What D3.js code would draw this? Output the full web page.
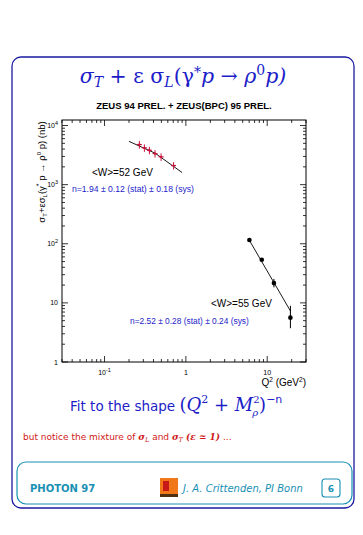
<!DOCTYPE html>
<html>
<head>
<meta charset="utf-8">
<script src="https://cdn.jsdelivr.net/npm/d3@7"></script>
<style>
  body { margin: 0; background: #fff; }
  svg { display: block; }
  .hel { font-family: "Liberation Sans", Arial, sans-serif; }
  .dv { font-family: "DejaVu Sans", Verdana, sans-serif; }
  .ser { font-family: "DejaVu Serif", "Liberation Serif", serif; font-style: italic; }
</style>
</head>
<body>
<svg id="chart" width="363" height="535"></svg>
<script>
// W=52 GeV (red crosses)
var q2Low   = [0.268, 0.309, 0.356, 0.418, 0.496, 0.706];
var sigLow  = [4760, 4190, 3810, 3350, 2950, 2100];
var errLow  = [700, 600, 550, 480, 430, 300];
var fitLow  = [[0.20, 5400], [0.42, 3400], [0.90, 1600]];

// W=55 GeV (black dots)
var q2High  = [6.04, 8.58, 12.1, 19.3];
var sigHigh = [115.6, 53.5, 21.6, 5.63];
var errHiUp = [4, 2, 3.8, 3.3];
var errHiDn = [4, 2, 3.3, 1.9];
var fitHigh = [[6.0, 116], [19.3, 7.3]];

var xTicks = [0.1, 1, 10];
var yTicks = [1, 10, 100, 1000, 10000];

var svg = d3.select('#chart');
var blue = '#1c1cc8', teal = '#1890b4';

// outer frame
svg.append('rect').attr('x', 12).attr('y', 57).attr('width', 342).attr('height', 451)
  .attr('rx', 9).attr('fill', 'none').attr('stroke', '#1a1aa0').attr('stroke-width', 1.3);

// heading
var h = svg.append('text').attr('class', 'ser').attr('x', 183).attr('y', 83)
  .attr('text-anchor', 'middle').attr('fill', blue).style('font-size', '20.5px');
h.append('tspan').text('σ');
h.append('tspan').text('T').attr('dy', 4).style('font-size', '14px');
h.append('tspan').text(' + ε σ').attr('dy', -4).style('font-style', 'normal');
h.append('tspan').text('L').attr('dy', 4).style('font-size', '14px');
h.append('tspan').text('(γ').attr('dy', -4).style('font-style', 'normal');
h.append('tspan').text('*').attr('dy', -6).style('font-size', '14px');
h.append('tspan').text('p → ρ').attr('dy', 6);
h.append('tspan').text('0').attr('dy', -8).style('font-size', '14px').style('font-style', 'normal');
h.append('tspan').text('p)').attr('dy', 8);

svg.append('text').attr('class', 'hel').attr('x', 184).attr('y', 109).attr('text-anchor', 'middle')
  .style('font-size', '9.5px').style('font-weight', 'bold').text('ZEUS 94 PREL. + ZEUS(BPC) 95 PREL.');

// plot area
var L = 62, R = 306, T = 120, B = 362;
var x = d3.scaleLog().domain([0.03, 30]).range([L, R]);
var y = d3.scaleLog().domain([1, 12400]).range([B, T]);

var g = svg.append('g');
g.append('rect').attr('x', L).attr('y', T).attr('width', R - L).attr('height', B - T)
  .attr('fill', 'none').attr('stroke', '#000').attr('stroke-width', 1);

function minors(dom) {
  var out = [];
  for (var e = -3; e <= 5; e++) for (var m = 1; m < 10; m++) {
    var v = m * Math.pow(10, e);
    if (v >= dom[0] && v <= dom[1]) out.push({v: v, major: m === 1});
  }
  return out;
}
var xt = minors(x.domain()), yt = minors(y.domain());
g.selectAll('.xtb').data(xt).enter().append('line')
  .attr('x1', function(d) { return x(d.v); }).attr('x2', function(d) { return x(d.v); })
  .attr('y1', B).attr('y2', function(d) { return B - (d.major ? 6 : 3); })
  .attr('stroke', '#000').attr('stroke-width', 0.8);
g.selectAll('.xtt').data(xt).enter().append('line')
  .attr('x1', function(d) { return x(d.v); }).attr('x2', function(d) { return x(d.v); })
  .attr('y1', T).attr('y2', function(d) { return T + (d.major ? 6 : 3); })
  .attr('stroke', '#000').attr('stroke-width', 0.8);
g.selectAll('.ytl').data(yt).enter().append('line')
  .attr('y1', function(d) { return y(d.v); }).attr('y2', function(d) { return y(d.v); })
  .attr('x1', L).attr('x2', function(d) { return L + (d.major ? 6 : 3); })
  .attr('stroke', '#000').attr('stroke-width', 0.8);
g.selectAll('.ytr').data(yt).enter().append('line')
  .attr('y1', function(d) { return y(d.v); }).attr('y2', function(d) { return y(d.v); })
  .attr('x1', R).attr('x2', function(d) { return R - (d.major ? 6 : 3); })
  .attr('stroke', '#000').attr('stroke-width', 0.8);

function expLabel(sel, v) {
  var e = Math.round(Math.log10(v));
  if (e === 0) { sel.text('1'); return; }
  if (e === 1) { sel.text('10'); return; }
  sel.append('tspan').text('10');
  sel.append('tspan').text(e).attr('dy', -3).style('font-size', '5.5px');
}
g.selectAll('.xl').data(xTicks).enter().append('text').attr('class', 'hel')
  .attr('x', function(d) { return x(d); }).attr('y', 375).attr('text-anchor', 'middle')
  .style('font-size', '7px').each(function(d) { expLabel(d3.select(this), d); });
g.selectAll('.yl').data(yTicks).enter().append('text').attr('class', 'hel')
  .attr('x', 58).attr('y', function(d) { return y(d) + 2.5; }).attr('text-anchor', 'end')
  .style('font-size', '7px').each(function(d) { expLabel(d3.select(this), d); });

// axis titles
var xl = svg.append('text').attr('class', 'hel').attr('x', 306).attr('y', 386).attr('text-anchor', 'end')
  .style('font-size', '10px');
xl.append('tspan').text('Q');
xl.append('tspan').text('2').attr('dy', -4).style('font-size', '6.5px');
xl.append('tspan').text(' (GeV').attr('dy', 4);
xl.append('tspan').text('2').attr('dy', -4).style('font-size', '6.5px');
xl.append('tspan').text(')').attr('dy', 4);

var yl = svg.append('text').attr('class', 'hel').attr('transform', 'translate(45,172) rotate(-90)')
  .attr('text-anchor', 'middle').style('font-size', '9.5px');
yl.append('tspan').text('σ');
yl.append('tspan').text('T').attr('dy', 2).style('font-size', '6px');
yl.append('tspan').text('+εσ').attr('dy', -2);
yl.append('tspan').text('L').attr('dy', 2).style('font-size', '6px');
yl.append('tspan').text('(γ').attr('dy', -2);
yl.append('tspan').text('*').attr('dy', -4).style('font-size', '7px');
yl.append('tspan').text(' p → ρ').attr('dy', 4);
yl.append('tspan').text('0').attr('dy', -4).style('font-size', '6px');
yl.append('tspan').text(' p) (nb)').attr('dy', 4);

// fit lines
var line = d3.line().x(function(d) { return x(d[0]); }).y(function(d) { return y(d[1]); });
g.append('path').attr('d', line(fitLow)).attr('fill', 'none').attr('stroke', '#000').attr('stroke-width', 0.9);
g.append('path').attr('d', line(fitHigh)).attr('fill', 'none').attr('stroke', '#000').attr('stroke-width', 0.9);

// red crosses
var red = '#c8143c';
q2Low.forEach(function(q, i) {
  var cx = x(q), cy = y(sigLow[i]);
  g.append('line').attr('x1', cx).attr('x2', cx)
    .attr('y1', y(sigLow[i] + errLow[i])).attr('y2', y(sigLow[i] - errLow[i]))
    .attr('stroke', red).attr('stroke-width', 1);
  g.append('line').attr('x1', cx - 2.5).attr('x2', cx + 2.5).attr('y1', cy).attr('y2', cy)
    .attr('stroke', red).attr('stroke-width', 1.2);
  g.append('circle').attr('cx', cx).attr('cy', cy).attr('r', 1.2).attr('fill', red);
});

// black dots
q2High.forEach(function(q, i) {
  var cx = x(q);
  g.append('line').attr('x1', cx).attr('x2', cx)
    .attr('y1', y(sigHigh[i] + errHiUp[i])).attr('y2', y(sigHigh[i] - errHiDn[i]))
    .attr('stroke', '#000').attr('stroke-width', 1);
  g.append('circle').attr('cx', cx).attr('cy', y(sigHigh[i])).attr('r', 2.3).attr('fill', '#000');
});

// annotations
svg.append('text').attr('class', 'hel').attr('x', 92).attr('y', 176).style('font-size', '10px')
  .text('<W>=52 GeV');
svg.append('text').attr('class', 'hel').attr('x', 72).attr('y', 192).style('font-size', '8.6px')
  .attr('fill', blue).text('n=1.94 ± 0.12 (stat) ± 0.18 (sys)');
svg.append('text').attr('class', 'hel').attr('x', 211).attr('y', 307).style('font-size', '10px')
  .text('<W>=55 GeV');
svg.append('text').attr('class', 'hel').attr('x', 130).attr('y', 324).style('font-size', '8.4px')
  .attr('fill', blue).text('n=2.52 ± 0.28 (stat) ± 0.24 (sys)');

// fit caption
var fc = svg.append('text').attr('x', 70).attr('y', 411).attr('fill', blue);
fc.append('tspan').attr('class', 'dv').style('font-size', '13.5px').text('Fit to the shape ');
fc.append('tspan').attr('class', 'ser').style('font-size', '18px').style('font-style', 'normal').text('(');
fc.append('tspan').attr('class', 'ser').style('font-size', '18px').text('Q');
fc.append('tspan').attr('class', 'ser').style('font-size', '11px').style('font-style', 'normal').attr('dy', -8).text('2');
fc.append('tspan').attr('class', 'ser').style('font-size', '18px').style('font-style', 'normal').attr('dy', 8).text(' + ');
fc.append('tspan').attr('class', 'ser').style('font-size', '18px').text('M');
var sup2 = fc.append('tspan').attr('class', 'ser').style('font-size', '10px').style('font-style', 'normal').attr('dy', -8).text('2');
var w2 = sup2.node().getComputedTextLength();
fc.append('tspan').attr('class', 'ser').style('font-size', '10px').attr('dx', -w2 - 1).attr('dy', 13).text('ρ');
fc.append('tspan').attr('class', 'ser').style('font-size', '18px').style('font-style', 'normal').attr('dx', 1).attr('dy', -5).text(')');
fc.append('tspan').attr('class', 'dv').style('font-size', '11px').attr('dy', -8).text('−n');

var nt = svg.append('text').attr('x', 23).attr('y', 440).attr('fill', '#d01818').style('font-size', '9px');
nt.append('tspan').attr('class', 'dv').text('but notice the mixture of ');
nt.append('tspan').attr('class', 'ser').style('font-weight', 'bold').text('σ');
nt.append('tspan').attr('class', 'ser').style('font-size', '6.5px').attr('dy', 2).text('L');
nt.append('tspan').attr('class', 'dv').attr('dy', -2).text(' and ');
nt.append('tspan').attr('class', 'ser').style('font-weight', 'bold').text('σ');
nt.append('tspan').attr('class', 'ser').style('font-size', '6.5px').attr('dy', 2).text('T');
nt.append('tspan').attr('class', 'ser').style('font-weight', 'bold').attr('dy', -2).text(' (ε ≃ 1)');
nt.append('tspan').attr('class', 'dv').text(' ...');

// footer box
svg.append('rect').attr('x', 17).attr('y', 462).attr('width', 335).attr('height', 42).attr('rx', 9)
  .attr('fill', 'none').attr('stroke', teal).attr('stroke-width', 1.2);
svg.append('text').attr('class', 'dv').attr('x', 30).attr('y', 492).attr('fill', teal)
  .style('font-size', '10px').style('font-weight', 'bold').text('PHOTON 97');
svg.append('rect').attr('x', 160).attr('y', 478).attr('width', 18).attr('height', 19).attr('fill', '#f07818');
svg.append('rect').attr('x', 163).attr('y', 481).attr('width', 6).attr('height', 10).attr('fill', '#c81818');
svg.append('rect').attr('x', 160).attr('y', 494).attr('width', 18).attr('height', 3).attr('fill', '#503010');
svg.append('text').attr('class', 'dv').attr('x', 183).attr('y', 492).attr('fill', teal)
  .style('font-size', '10px').style('font-style', 'italic').text('J. A. Crittenden, PI Bonn');
svg.append('rect').attr('x', 322).attr('y', 479).attr('width', 18).attr('height', 18).attr('rx', 3)
  .attr('fill', 'none').attr('stroke', teal).attr('stroke-width', 1.1);
svg.append('text').attr('class', 'dv').attr('x', 331).attr('y', 492).attr('text-anchor', 'middle')
  .attr('fill', teal).style('font-size', '9px').style('font-weight', 'bold').text('6');
</script>
</body>
</html>
